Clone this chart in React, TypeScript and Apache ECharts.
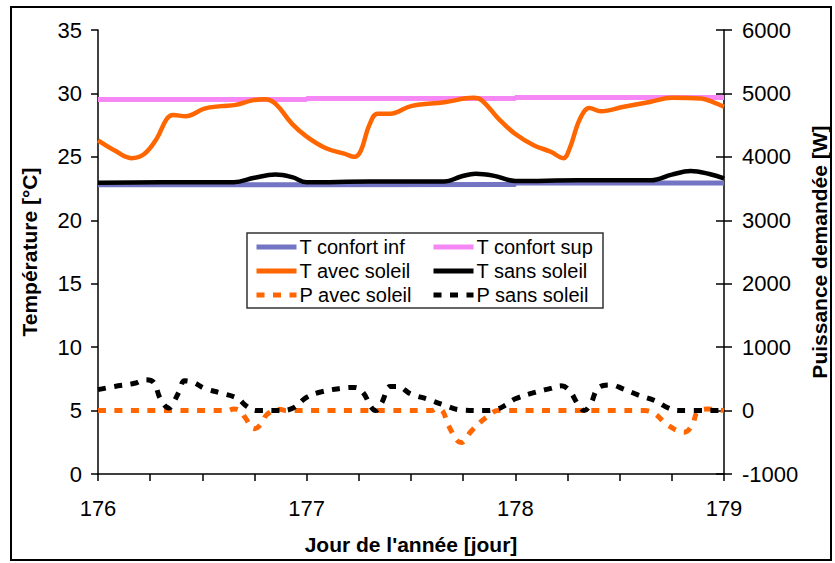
import React, { useEffect, useRef } from "react";
import * as echarts from "echarts";

// Temperature series (°C) vs day of year
const tAvecDays = [176.0, 176.08, 176.16, 176.22, 176.28, 176.33, 176.36, 176.42, 176.51, 176.59, 176.66, 176.74, 176.8, 176.85, 176.93, 177.0, 177.09, 177.18, 177.23, 177.26, 177.3, 177.34, 177.4, 177.5, 177.66, 177.8, 177.84, 177.92, 178.0, 178.09, 178.17, 178.23, 178.26, 178.31, 178.355, 178.41, 178.52, 178.65, 178.75, 178.89, 178.95, 179.0];
const tAvecValues = [26.3, 25.5, 24.9, 25.2, 26.4, 28.0, 28.3, 28.2, 28.8, 29.0, 29.1, 29.45, 29.55, 29.2, 27.6, 26.6, 25.7, 25.25, 25.0, 25.5, 27.5, 28.4, 28.4, 29.0, 29.3, 29.65, 29.45, 28.0, 26.8, 25.9, 25.4, 24.9, 25.65, 28.0, 28.85, 28.6, 28.95, 29.35, 29.65, 29.6, 29.3, 28.95];

const tSansDays = [176.0, 176.3, 176.65, 176.75, 176.85, 176.93, 177.0, 177.3, 177.66, 177.74, 177.81, 177.9, 178.0, 178.3, 178.65, 178.75, 178.84, 178.93, 179.0];
const tSansValues = [22.95, 23.0, 23.0, 23.35, 23.6, 23.4, 23.0, 23.05, 23.05, 23.45, 23.67, 23.5, 23.1, 23.15, 23.15, 23.6, 23.88, 23.65, 23.3];

const confDays = [176.0, 177.0, 177.0, 178.0, 178.0, 179.0];
const confInfValues = [22.8, 22.8, 22.83, 22.83, 22.93, 22.93];
const confSupValues = [29.52, 29.52, 29.6, 29.6, 29.68, 29.68];

// Power series (W)
const pSansDays = [176.0, 176.08, 176.175, 176.225, 176.265, 176.3, 176.34, 176.36, 176.39, 176.415, 176.46, 176.51, 176.59, 176.67, 176.71, 176.76, 176.87, 176.935, 177.0, 177.07, 177.165, 177.23, 177.27, 177.31, 177.33, 177.36, 177.4, 177.435, 177.5, 177.58, 177.66, 177.74, 177.85, 177.91, 177.96, 178.0, 178.08, 178.17, 178.22, 178.26, 178.3, 178.33, 178.36, 178.4, 178.46, 178.51, 178.59, 178.67, 178.73, 178.78, 179.0];
const pSansValues = [330, 380, 430, 485, 450, 180, 40, 120, 310, 470, 440, 350, 275, 190, 75, 0, 0, 40, 210, 295, 350, 365, 285, 50, 0, 125, 380, 380, 260, 180, 85, 10, 0, 20, 100, 185, 275, 350, 390, 310, 100, 0, 100, 365, 405, 350, 245, 155, 45, 0, 0];

const pAvecDays = [176.0, 176.62, 176.65, 176.68, 176.705, 176.75, 176.785, 176.81, 176.87, 176.9, 177.6, 177.62, 177.65, 177.68, 177.74, 177.79, 177.86, 177.92, 178.62, 178.67, 178.73, 178.81, 178.85, 178.87, 178.92, 179.0];
const pAvecValues = [0, 0, 25, 0, -110, -285, -200, -60, 20, 0, 0, 25, 0, -240, -505, -320, -110, 0, 0, -55, -230, -340, -215, -35, 25, 0];

const xTicks = [176, 177, 178, 179];
const seriesNames = ["T confort inf", "T confort sup", "T avec soleil", "T sans soleil", "P avec soleil", "P sans soleil"];

const zip = (xs: number[], ys: number[]) => xs.map((x, i) => [x, ys[i]]);

const FONT = "'Liberation Sans', Arial, sans-serif";

export default function App() {
  const ref = useRef<HTMLDivElement>(null);
  useEffect(() => {
    if (!ref.current) return;
    const chart = echarts.init(ref.current, null, { renderer: "svg" });
    const dash = [8, 8.5];
    const legendBase = {
      orient: "vertical", top: 237, padding: 0, itemGap: 4, itemWidth: 40, itemHeight: 14,
      itemStyle: { opacity: 0 },
      lineStyle: { width: 5 },
      textStyle: { fontFamily: FONT, fontSize: 20, color: "#000", lineHeight: 20, padding: [0, 0, 0, -2] },
      z: 10,
    };
    chart.setOption({
      animation: false,
      backgroundColor: "#ffffff",
      textStyle: { fontFamily: FONT, color: "#000" },
      grid: { left: 98, right: 111, top: 30, bottom: 89, containLabel: false, outerBoundsMode: "none" },
      graphic: [
        { type: "rect", shape: { x: 11, y: 7, width: 820, height: 553 }, style: { fill: "none", stroke: "#000", lineWidth: 2 }, silent: true },
        { type: "rect", shape: { x: 247, y: 233, width: 356, height: 75 }, style: { fill: "#fff", stroke: "#333", lineWidth: 1.5 }, z: 0, silent: true },
      ],
      legend: [
        { ...legendBase, left: 254, data: [seriesNames[0], seriesNames[2], seriesNames[4]] },
        { ...legendBase, left: 431, data: [seriesNames[1], seriesNames[3], seriesNames[5]] },
      ],
      xAxis: {
        type: "value", min: 176, max: 179, interval: 1,
        name: "Jour de l'année [jour]", nameLocation: "middle", nameGap: 60,
        nameTextStyle: { fontFamily: FONT, fontSize: 21, fontWeight: "bold", color: "#000" },
        axisLine: { show: true, lineStyle: { color: "#000", width: 1.5 } },
        axisTick: { show: true, length: 7, lineStyle: { color: "#000", width: 1.5 } },
        minorTick: { show: true, splitNumber: 4, length: 7, lineStyle: { color: "#000", width: 1.5 } },
        axisLabel: { fontFamily: FONT, fontSize: 22, color: "#000", margin: 23, formatter: (v: number) => (xTicks.includes(v) ? String(v) : "") },
        splitLine: { show: false },
      },
      yAxis: [
        {
          type: "value", min: 0, max: 35, interval: 5, position: "left",
          name: "Température [°C]", nameLocation: "middle", nameGap: 58,
          nameTextStyle: { fontFamily: FONT, fontSize: 21, fontWeight: "bold", color: "#000" },
          axisLine: { show: true, lineStyle: { color: "#000", width: 1.5 } },
          axisTick: { show: true, length: 7, lineStyle: { color: "#000", width: 1.5 } },
          axisLabel: { fontFamily: FONT, fontSize: 22, color: "#000", margin: 16 },
          splitLine: { show: false },
        },
        {
          type: "value", min: -1000, max: 6000, interval: 1000, position: "right",
          name: "Puissance demandée [W]", nameLocation: "middle", nameGap: 84, nameRotate: 90,
          nameTextStyle: { fontFamily: FONT, fontSize: 21, fontWeight: "bold", color: "#000" },
          axisLine: { show: true, lineStyle: { color: "#000", width: 1.5 } },
          axisTick: { show: true, length: 8, lineStyle: { color: "#000", width: 1.5 } },
          axisLabel: { fontFamily: FONT, fontSize: 22, color: "#000", margin: 18, formatter: (v: number) => String(v) },
          splitLine: { show: false },
        },
        {
          type: "value", min: -1000, max: 6000, interval: 1000, position: "right",
          axisLine: { show: false },
          axisTick: { show: true, inside: true, length: 8, lineStyle: { color: "#000", width: 1.5 } },
          axisLabel: { show: false },
          splitLine: { show: false },
        },
      ],
      series: [
        {
          name: seriesNames[0], type: "line", yAxisIndex: 0, symbol: "none", showSymbol: false,
          data: zip(confDays, confInfValues),
          lineStyle: { color: "#7474c4", width: 5 }, itemStyle: { color: "#7474c4" },
        },
        {
          name: seriesNames[1], type: "line", yAxisIndex: 0, symbol: "none", showSymbol: false,
          data: zip(confDays, confSupValues),
          lineStyle: { color: "#f688f6", width: 5 }, itemStyle: { color: "#f688f6" },
        },
        {
          name: seriesNames[2], type: "line", yAxisIndex: 0, symbol: "none", showSymbol: false, smooth: 0.4,
          data: zip(tAvecDays, tAvecValues),
          lineStyle: { color: "#ff6600", width: 4.5 }, itemStyle: { color: "#ff6600" },
        },
        {
          name: seriesNames[3], type: "line", yAxisIndex: 0, symbol: "none", showSymbol: false, smooth: 0.4,
          data: zip(tSansDays, tSansValues),
          lineStyle: { color: "#000000", width: 4.5 }, itemStyle: { color: "#000000" },
        },
        {
          name: seriesNames[4], type: "line", yAxisIndex: 1, symbol: "none", showSymbol: false, smooth: 0.4,
          data: zip(pAvecDays, pAvecValues),
          lineStyle: { color: "#ff6600", width: 5, type: dash }, itemStyle: { color: "#ff6600" },
        },
        {
          name: seriesNames[5], type: "line", yAxisIndex: 1, symbol: "none", showSymbol: false, smooth: 0.4,
          data: zip(pSansDays, pSansValues),
          lineStyle: { color: "#000000", width: 5, type: dash }, itemStyle: { color: "#000000" },
        },
      ],
    });
    return () => chart.dispose();
  }, []);
  return (
    <div
      ref={ref}
      style={{ position: "absolute", left: 0, top: 0, width: 835, height: 563, background: "#fff" }}
    />
  );
}
